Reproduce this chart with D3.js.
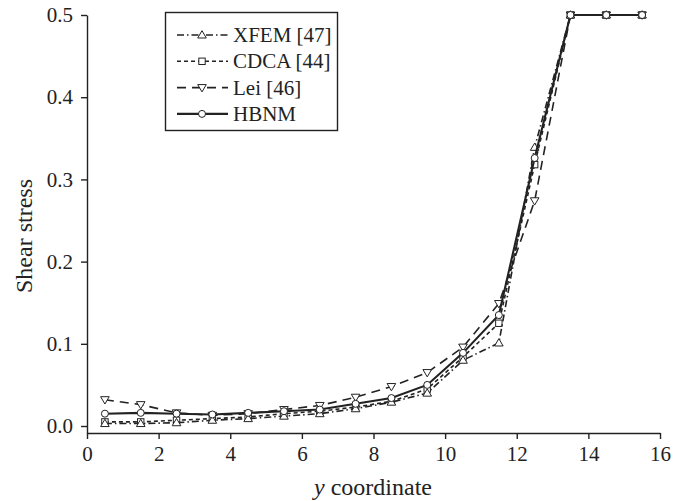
<!DOCTYPE html>
<html lang="en">
<head>
    <meta charset="UTF-8">
    <title>Shear stress along y coordinate</title>
    <script src="https://cdnjs.cloudflare.com/ajax/libs/d3/7.8.5/d3.min.js"></script>
    <style>
        body {
            margin: 0;
            background: white;
        }
    </style>
</head>
<body>
    <svg id="chart" width="688" height="501"></svg>

    <script>
        // Data
        const yCoord = [0.5, 1.5, 2.5, 3.5, 4.5, 5.5, 6.5, 7.5, 8.5, 9.5, 10.5, 11.5, 12.5, 13.5, 14.5, 15.5];
        const xfem = [0.003, 0.003, 0.004, 0.007, 0.009, 0.012, 0.015, 0.021, 0.029, 0.040, 0.080, 0.101, 0.339, 0.5, 0.5, 0.5];
        const cdca = [0.005, 0.005, 0.007, 0.009, 0.011, 0.015, 0.018, 0.023, 0.030, 0.045, 0.084, 0.125, 0.318, 0.5, 0.5, 0.5];
        const lei  = [0.032, 0.026, 0.016, 0.013, 0.015, 0.020, 0.025, 0.035, 0.048, 0.065, 0.096, 0.149, 0.274, 0.5, 0.5, 0.5];
        const hbnm = [0.015, 0.016, 0.015, 0.014, 0.016, 0.018, 0.020, 0.027, 0.034, 0.050, 0.089, 0.135, 0.326, 0.5, 0.5, 0.5];

        const xTicks = [0, 2, 4, 6, 8, 10, 12, 14, 16];
        const yTicks = [0, 0.1, 0.2, 0.3, 0.4, 0.5];

        const series = [
            { name: "Lei [46]", values: lei, dash: "9,6", marker: "down" },
            { name: "CDCA [44]", values: cdca, dash: "4,3", marker: "square" },
            { name: "XFEM [47]", values: xfem, dash: "7,3,1.5,3", marker: "up" },
            { name: "HBNM", values: hbnm, dash: null, marker: "circle" }
        ];
        const legendOrder = ["XFEM [47]", "CDCA [44]", "Lei [46]", "HBNM"];

        const serif = "'Liberation Serif', 'Times New Roman', Times, serif";
        const ink = "#222";

        const svg = d3.select("#chart");

        const xScale = d3.scaleLinear().domain([0, 16]).range([87, 660]);
        const yScale = d3.scaleLinear().domain([-0.0085, 0.5]).range([433, 15]);

        // axes
        const xAxis = svg.append("g")
            .attr("transform", "translate(0,433)")
            .call(d3.axisBottom(xScale).tickValues(xTicks).tickSize(6).tickSizeOuter(0));
        xAxis.selectAll("text").attr("y", 13).attr("dy", "0.71em");

        const yAxis = svg.append("g")
            .attr("transform", "translate(87,0)")
            .call(d3.axisLeft(yScale).tickValues(yTicks).tickFormat(d3.format(".1f")).tickSize(6).tickSizeOuter(0));
        yAxis.selectAll("text").attr("x", -14);

        svg.selectAll(".tick text")
            .style("font-family", serif)
            .style("font-size", "21px")
            .style("fill", ink);
        svg.selectAll(".domain, .tick line").attr("stroke", ink).attr("stroke-width", 1.4);

        // axis titles
        svg.append("text")
            .attr("transform", "translate(32,236) rotate(-90)")
            .attr("text-anchor", "middle")
            .style("font-family", serif)
            .style("font-size", "24px")
            .style("fill", ink)
            .text("Shear stress");

        const xTitle = svg.append("text")
            .attr("x", 373)
            .attr("y", 495)
            .attr("text-anchor", "middle")
            .style("font-family", serif)
            .style("font-size", "24px")
            .style("fill", ink);
        xTitle.append("tspan").style("font-style", "italic").text("y");
        xTitle.append("tspan").text(" coordinate");

        // markers
        function drawMarker(g, type, x, y) {
            const s = 4.3;
            let m;
            if (type === "circle") {
                m = g.append("circle").attr("cx", x).attr("cy", y).attr("r", 3.5);
            } else if (type === "square") {
                m = g.append("rect").attr("x", x - 3.2).attr("y", y - 3.2).attr("width", 6.4).attr("height", 6.4);
            } else if (type === "up") {
                m = g.append("path").attr("d", `M${x},${y - s}L${x + s},${y + s * 0.7}L${x - s},${y + s * 0.7}Z`);
            } else {
                m = g.append("path").attr("d", `M${x},${y + s}L${x + s},${y - s * 0.7}L${x - s},${y - s * 0.7}Z`);
            }
            m.attr("fill", "white").attr("stroke", ink).attr("stroke-width", 1);
        }

        const line = d3.line()
            .x((d, i) => xScale(yCoord[i]))
            .y(d => yScale(d));

        series.forEach(s => {
            const g = svg.append("g");
            g.append("path")
                .attr("d", line(s.values))
                .attr("fill", "none")
                .attr("stroke", ink)
                .attr("stroke-width", s.dash ? 1.6 : 2.1)
                .attr("stroke-dasharray", s.dash);
            s.values.forEach((v, i) => drawMarker(g, s.marker, xScale(yCoord[i]), yScale(v)));
        });

        // legend
        const legend = svg.append("g");
        legend.append("rect")
            .attr("x", 165.5).attr("y", 12.5)
            .attr("width", 172).attr("height", 118)
            .attr("fill", "white").attr("stroke", ink).attr("stroke-width", 1.4);

        legendOrder.forEach((name, i) => {
            const s = series.find(d => d.name === name);
            const ly = 35 + i * 26.3;
            legend.append("line")
                .attr("x1", 177).attr("x2", 228)
                .attr("y1", ly).attr("y2", ly)
                .attr("stroke", ink)
                .attr("stroke-width", s.dash ? 1.6 : 2.1)
                .attr("stroke-dasharray", s.dash);
            drawMarker(legend, s.marker, 202, ly);
            legend.append("text")
                .attr("x", 233)
                .attr("y", ly + 7)
                .style("font-family", serif)
                .style("font-size", "21px")
                .style("fill", ink)
                .text(name);
        });
    </script>
</body>
</html>
